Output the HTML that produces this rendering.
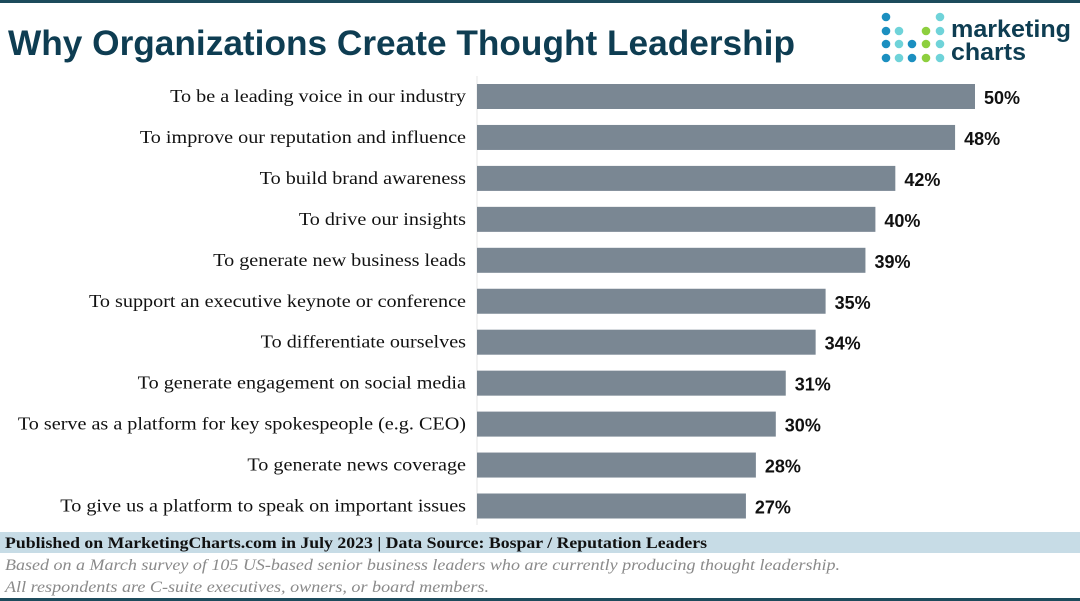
<!DOCTYPE html>
<html><head><meta charset="utf-8"><style>
html,body{margin:0;padding:0;background:#fff;}
svg{display:block;}
</style></head><body>
<svg width="1080" height="601" viewBox="0 0 1080 601" xmlns="http://www.w3.org/2000/svg">
<rect x="0" y="0" width="1080" height="3" fill="#1d4b5c"/>
<text x="8" y="55" font-family="'Liberation Sans',sans-serif" font-weight="bold" font-size="35" fill="#0e3d52" textLength="787" lengthAdjust="spacingAndGlyphs">Why Organizations Create Thought Leadership</text>
<g id="logo"></g>
<text x="951" y="37" font-family="'Liberation Sans',sans-serif" font-weight="bold" font-size="24" fill="#0e3d52" textLength="120" lengthAdjust="spacingAndGlyphs">marketing</text>
<text x="951" y="60" font-family="'Liberation Sans',sans-serif" font-weight="bold" font-size="24" fill="#0e3d52" textLength="75" lengthAdjust="spacingAndGlyphs">charts</text>
<line x1="477" y1="76" x2="477" y2="525" stroke="#e4e4e4" stroke-width="1"/>
<g id="bars"></g>
<rect x="0" y="532" width="1080" height="21" fill="#c7dce6"/>
<text x="5" y="548" font-family="'Liberation Serif',serif" font-weight="bold" font-size="16" fill="#111" textLength="702" lengthAdjust="spacingAndGlyphs">Published on MarketingCharts.com in July 2023 | Data Source: Bospar / Reputation Leaders</text>
<text x="5" y="570" font-family="'Liberation Serif',serif" font-style="italic" font-size="16" fill="#8a8a8a" textLength="835" lengthAdjust="spacingAndGlyphs">Based on a March survey of 105 US-based senior business leaders who are currently producing thought leadership.</text>
<text x="5" y="592" font-family="'Liberation Serif',serif" font-style="italic" font-size="16" fill="#8a8a8a" textLength="484" lengthAdjust="spacingAndGlyphs">All respondents are C-suite executives, owners, or board members.</text>
<rect x="0" y="598" width="1080" height="3" fill="#1d4b5c"/>
</svg>
<script>
const categories = ["To be a leading voice in our industry","To improve our reputation and influence","To build brand awareness","To drive our insights","To generate new business leads","To support an executive keynote or conference","To differentiate ourselves","To generate engagement on social media","To serve as a platform for key spokespeople (e.g. CEO)","To generate news coverage","To give us a platform to speak on important issues"];
const values = [50,48,42,40,39,35,34,31,30,28,27];
const valueLabels = ["50%","48%","42%","40%","39%","35%","34%","31%","30%","28%","27%"];

const NS="http://www.w3.org/2000/svg";
const x0=477, pxPer=9.96, yTop=84, step=40.95, barH=25;
const xScale=v=>v*pxPer;
const yScale=i=>yTop+i*step;
const g=document.getElementById('bars');
categories.forEach((c,i)=>{
  const y=yScale(i);
  const r=document.createElementNS(NS,'rect');
  r.setAttribute('x',x0);r.setAttribute('y',y);
  r.setAttribute('width',xScale(values[i]));r.setAttribute('height',barH);
  r.setAttribute('fill','#7a8793');
  
  
  g.appendChild(r);
  const t=document.createElementNS(NS,'text');
  t.setAttribute('x',466);t.setAttribute('y',y+18);
  t.setAttribute('text-anchor','end');
  t.setAttribute('font-family',"'Liberation Serif',serif");
  t.setAttribute('font-size','18');t.setAttribute('fill','#111');
  t.textContent=c;
  
  
  g.appendChild(t);
  const w=t.getComputedTextLength();
  t.setAttribute('textLength',(w*1.12).toFixed(1));
  t.setAttribute('lengthAdjust','spacingAndGlyphs');
  const v=document.createElementNS(NS,'text');
  v.setAttribute('x',x0+xScale(values[i])+9);v.setAttribute('y',y+20);
  v.setAttribute('font-family',"'Liberation Sans',sans-serif");
  v.setAttribute('font-weight','bold');
  v.setAttribute('font-size','18');v.setAttribute('fill','#111');
  v.textContent=valueLabels[i];
  
  
  g.appendChild(v);
});
const B="#1b8fc0",T="#6fd3d9",G="#8dcf3e";
const cols=[[B,B,B,B],[null,T,T,T],[null,null,B,B],[null,G,G,G],[T,T,T,T]];
const rows=[17,31,44,58], xs=[886,899,912,926,940];
const lg=document.getElementById('logo');
cols.forEach((col,ci)=>col.forEach((c,ri)=>{
  if(!c)return;
  const d=document.createElementNS(NS,'circle');
  d.setAttribute('cx',xs[ci]);d.setAttribute('cy',rows[ri]);d.setAttribute('r',4.3);d.setAttribute('fill',c);
  
  
  lg.appendChild(d);
}));
</script>
</body></html>
